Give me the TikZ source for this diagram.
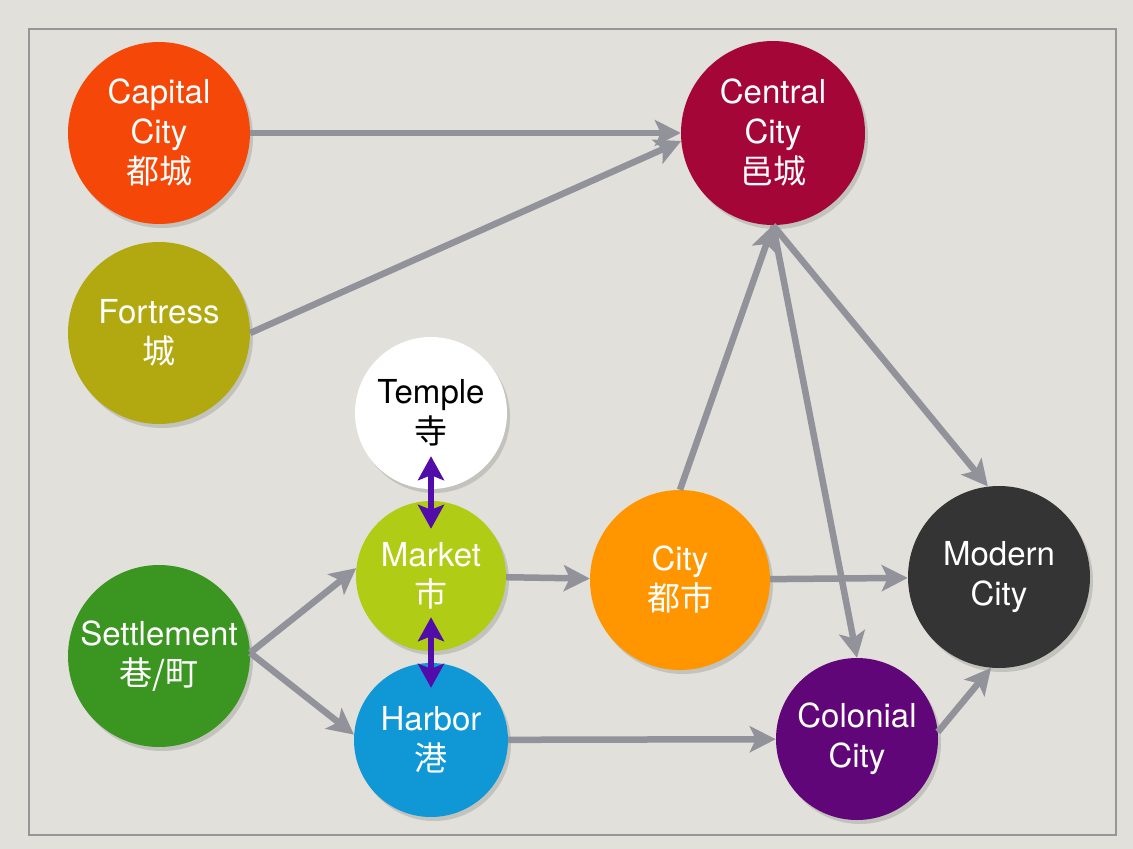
\documentclass[tikz,border=0pt]{standalone}
\usepackage{fontspec}
\setmainfont{TeX Gyre Heros}
\newfontfamily\cjk{Noto Sans CJK JP}
\usetikzlibrary{arrows.meta, shadows}

\definecolor{paper}{RGB}{225,224,218}
\definecolor{framegray}{RGB}{150,150,150}
\definecolor{arrowgray}{RGB}{146,146,154}
\definecolor{linkpurple}{RGB}{82,12,170}
\definecolor{capred}{RGB}{245,72,8}
\definecolor{centralred}{RGB}{165,6,56}
\definecolor{fortolive}{RGB}{178,168,16}
\definecolor{marketlime}{RGB}{176,204,20}
\definecolor{cityorange}{RGB}{255,150,0}
\definecolor{moderngray}{RGB}{52,52,52}
\definecolor{settlegreen}{RGB}{58,150,32}
\definecolor{harborblue}{RGB}{16,152,214}
\definecolor{colonialpurple}{RGB}{96,6,120}

\begin{document}
\begin{tikzpicture}[
    x=1pt, y=-1pt,
    % Style for the cities
    place/.style={
        circle,
        fill=#1,
        text=white,
        minimum size=182pt,
        inner sep=0pt,
        align=center,
        font=\fontsize{33}{40}\selectfont,
        drop shadow={shadow xshift=3pt, shadow yshift=-4pt, opacity=0.3}
    },
    % Style for the gray arrows
    flow/.style={
        -{Stealth[length=26pt, width=26pt, inset=6pt]},
        line width=6.5pt,
        draw=arrowgray
    },
    % Style for the purple two-way arrows
    link/.style={
        {Stealth[length=24pt, width=26pt, inset=5pt]}-{Stealth[length=24pt, width=26pt, inset=5pt]},
        line width=6pt,
        draw=linkpurple
    }
]

    % --- Background ---
    \fill[paper] (0,0) rectangle (1133,849);
    \draw[framegray, line width=2pt] (29,29) rectangle (1116,835);

    % --- Draw Cities ---
    \node[place=capred] (capital) at (159,133) {Capital\\City\\{\cjk 都城}};
    \node[place=centralred, minimum size=184pt] (central) at (773,133) {Central\\City\\{\cjk 邑城}};
    \node[place=fortolive] (fortress) at (159,333) {Fortress\\{\cjk 城}};
    \node[place=white, text=black, minimum size=152pt] (temple) at (431,413) {Temple\\{\cjk 寺}};
    \node[place=marketlime, minimum size=150pt] (market) at (431,576) {Market\\{\cjk 市}};
    \node[place=cityorange, minimum size=180pt] (city) at (680,580) {City\\{\cjk 都市}};
    \node[place=moderngray] (modern) at (999,577) {Modern\\City};
    \node[place=settlegreen] (settlement) at (159,656) {Settlement\\{\cjk 巷/町}};
    \node[place=harborblue, minimum size=154pt] (harbor) at (431,740) {Harbor\\{\cjk 港}};
    \node[place=colonialpurple, minimum size=162pt] (colonial) at (857,739) {Colonial\\City};

    % --- Draw Arrows ---
    \draw[flow] (capital) -- (central);
    \draw[flow] (fortress.east) -- (central.185);
    \draw[flow] (settlement.2) -- (market.174);
    \draw[flow] (settlement.2) -- (harbor.176);
    \draw[flow] (market) -- (city);
    \draw[flow] (city) -- (modern);
    \draw[flow] (harbor) -- (colonial);
    \draw[flow] (city.north) -- (central.south);
    \draw[flow] (central.south) -- (colonial.north);
    \draw[flow] (central.south) -- (modern.97);
    \draw[flow] (colonial.5) -- (modern.265);

    % two-way links, reaching into the circles
    \draw[link, shorten <=-33pt, shorten >=-28pt] (temple) -- (market);
    \draw[link, shorten <=-34pt, shorten >=-25pt] (market) -- (harbor);

\end{tikzpicture}
\end{document}
